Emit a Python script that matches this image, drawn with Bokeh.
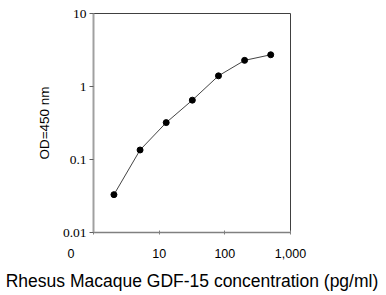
from bokeh.plotting import figure
from bokeh.models import FixedTicker, Range1d
from bokeh.embed import file_html
from bokeh.resources import INLINE

# Data
concentration = [2.048, 5.12, 12.8, 32, 80, 200, 500]
od450 = [0.033, 0.135, 0.32, 0.65, 1.40, 2.28, 2.72]
x_ticks = [1, 10, 100, 1000]
# the first label "0" is padded with no-break spaces so it sits left of the axis corner
x_tick_labels = {1: "0" + "\u00a0" * 13, 10: "10", 100: "100", 1000: "1,000"}
y_ticks = [0.01, 0.1, 1, 10]
y_tick_labels = {0.01: "0.01", 0.1: "0.1", 1: "1", 10: "10"}
x_title = "Rhesus Macaque GDF-15 concentration (pg/ml)"
y_title = "OD=450 nm"

p = figure(width=386, height=295, x_axis_type="log", y_axis_type="log",
           x_range=Range1d(1, 1000), y_range=Range1d(0.01, 10),
           output_backend="svg", toolbar_location=None,
           min_border_left=93, min_border_right=96, min_border_top=13, min_border_bottom=63)
p.xgrid.visible = False
p.ygrid.visible = False
p.outline_line_color = "#404040"
p.outline_line_width = 1

p.line(concentration, od450, line_color="#444444", line_width=1)
p.scatter(concentration, od450, size=6, fill_color="black", line_color="black")

xa = p.xaxis[0]
xa.ticker = FixedTicker(ticks=x_ticks, minor_ticks=[])
xa.major_label_overrides = x_tick_labels
xa.axis_line_color = "#808080"
xa.axis_line_width = 1.5
xa.major_tick_line_color = "#808080"
xa.major_tick_in = 2
xa.major_tick_out = 2
xa.minor_tick_line_color = None
xa.major_label_standoff = 12
xa.major_label_text_font = "Liberation Sans"
xa.major_label_text_font_size = "12.5px"
xa.major_label_text_color = "black"
xa.axis_label = x_title
xa.axis_label_text_font = "Liberation Sans"
xa.axis_label_text_font_style = "normal"
xa.axis_label_text_font_size = "17.5px"
xa.axis_label_text_color = "black"
xa.axis_label_standoff = 7

ya = p.yaxis[0]
ya.ticker = FixedTicker(ticks=y_ticks, minor_ticks=[])
ya.major_label_overrides = y_tick_labels
ya.axis_line_color = "#a0a0a0"
ya.axis_line_width = 2
ya.major_tick_line_color = "#606060"
ya.major_tick_in = 0
ya.major_tick_out = 4
ya.minor_tick_line_color = None
ya.major_label_standoff = 3
ya.major_label_text_font = "Liberation Serif"
ya.major_label_text_font_size = "13.5px"
ya.major_label_text_color = "black"
ya.axis_label = y_title
ya.axis_label_text_font = "Liberation Sans"
ya.axis_label_text_font_style = "normal"
ya.axis_label_text_font_size = "13.5px"
ya.axis_label_text_color = "black"
ya.axis_label_standoff = 8

open("out.html", "w").write(file_html(p, INLINE))
